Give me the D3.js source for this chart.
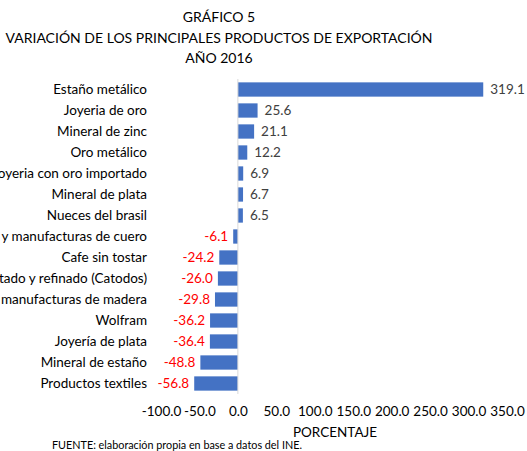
<!DOCTYPE html>
<html>
<head>
<meta charset="utf-8">
<script src="https://cdn.jsdelivr.net/npm/d3@7"></script>
<style>
  body { margin: 0; background: #fff; }
  svg { display: block; font-family: Lato, "Liberation Sans", sans-serif; }
</style>
</head>
<body>
<svg id="plot"></svg>
<script>
const width = 527;
const height = 451;

const titleLines = ['GRÁFICO 5', 'VARIACIÓN DE LOS PRINCIPALES PRODUCTOS DE EXPORTACIÓN', 'AÑO 2016'];

const products = [
  'Estaño metálico',
  'Joyeria de oro',
  'Mineral de zinc',
  'Oro metálico',
  'Joyeria con oro importado',
  'Mineral de plata',
  'Nueces del brasil',
  'Cueros y manufacturas de cuero',
  'Cafe sin tostar',
  'Cobre tratado y refinado (Catodos)',
  'Maderas y manufacturas de madera',
  'Wolfram',
  'Joyería de plata',
  'Mineral de estaño',
  'Productos textiles'
];
const variation = [319.1, 25.6, 21.1, 12.2, 6.9, 6.7, 6.5, -6.1, -24.2, -26.0, -29.8, -36.2, -36.4, -48.8, -56.8];

const xTicks = [-100, -50, 0, 50, 100, 150, 200, 250, 300, 350];
const xTitle = 'PORCENTAJE';
const source = 'FUENTE: elaboración propia en base a datos del INE.';

let svg, sx, sy;

function main(){
  svg = d3.select('svg#plot')
  .attr('width', width)
  .attr('height', height);

  sx = d3.scaleLinear()
  .domain([-100, 350])
  .range([161, 507]);

  sy = d3.scaleBand()
  .domain(products)
  .range([79, 394])
  .paddingInner(0.32)
  .paddingOuter(0.16);

  // title
  svg.selectAll('.title')
  .data(titleLines)
  .enter()
  .append('text')
  .attr('class', 'title')
  .attr('x', 219)
  .attr('y', (d,i)=>22 + i*20.5)
  .attr('text-anchor', 'middle')
  .attr('font-size', 14)
  .attr('fill', '#000')
  .text(d=>d);

  // bars
  svg.selectAll('.bar')
  .data(variation)
  .enter()
  .append('rect')
  .attr('class', 'bar')
  .attr('x', d=>sx(Math.min(0, d)))
  .attr('y', (d,i)=>sy(products[i]))
  .attr('width', d=>Math.abs(sx(d)-sx(0)))
  .attr('height', sy.bandwidth())
  .attr('fill', '#4472c4');

  // zero line
  svg.append('line')
  .attr('x1', sx(0)).attr('x2', sx(0))
  .attr('y1', 79).attr('y2', 394)
  .attr('stroke', '#d9d9d9')
  .attr('stroke-width', 1);

  // category labels (long ones run off the left edge, as in the original)
  svg.selectAll('.cat')
  .data(products)
  .enter()
  .append('text')
  .attr('class', 'cat')
  .attr('x', 147)
  .attr('y', d=>sy(d) + sy.bandwidth()/2)
  .attr('dy', '0.35em')
  .attr('text-anchor', 'end')
  .attr('font-size', 13.5)
  .attr('fill', '#000')
  .text(d=>d);

  // value labels
  svg.selectAll('.val')
  .data(variation)
  .enter()
  .append('text')
  .attr('class', 'val')
  .attr('x', d=> d >= 0 ? sx(d) + 7 : sx(d) - 5)
  .attr('y', (d,i)=>sy(products[i]) + sy.bandwidth()/2)
  .attr('dy', '0.35em')
  .attr('text-anchor', d=> d >= 0 ? 'start' : 'end')
  .attr('font-size', 13.5)
  .attr('fill', d=> d >= 0 ? '#404040' : '#ff0000')
  .text(d=>d.toFixed(1));

  // x axis
  const xAxis = d3.axisBottom(sx)
  .tickValues(xTicks)
  .tickSize(0)
  .tickPadding(0)
  .tickFormat(d=>d.toFixed(1));

  const gx = svg.append('g')
  .attr('transform', 'translate(0,406)')
  .call(xAxis);
  gx.select('.domain').remove();
  gx.selectAll('text')
  .attr('font-family', 'Lato, "Liberation Sans", sans-serif')
  .attr('font-size', 13.5)
  .attr('fill', '#000');

  svg.append('text')
  .attr('x', 335)
  .attr('y', 437)
  .attr('text-anchor', 'middle')
  .attr('font-size', 13.5)
  .attr('fill', '#000')
  .text(xTitle);

  svg.append('text')
  .attr('x', 52)
  .attr('y', 449)
  .attr('font-size', 10.8)
  .attr('fill', '#000')
  .text(source);
}

document.addEventListener('DOMContentLoaded', main);
</script>
</body>
</html>
